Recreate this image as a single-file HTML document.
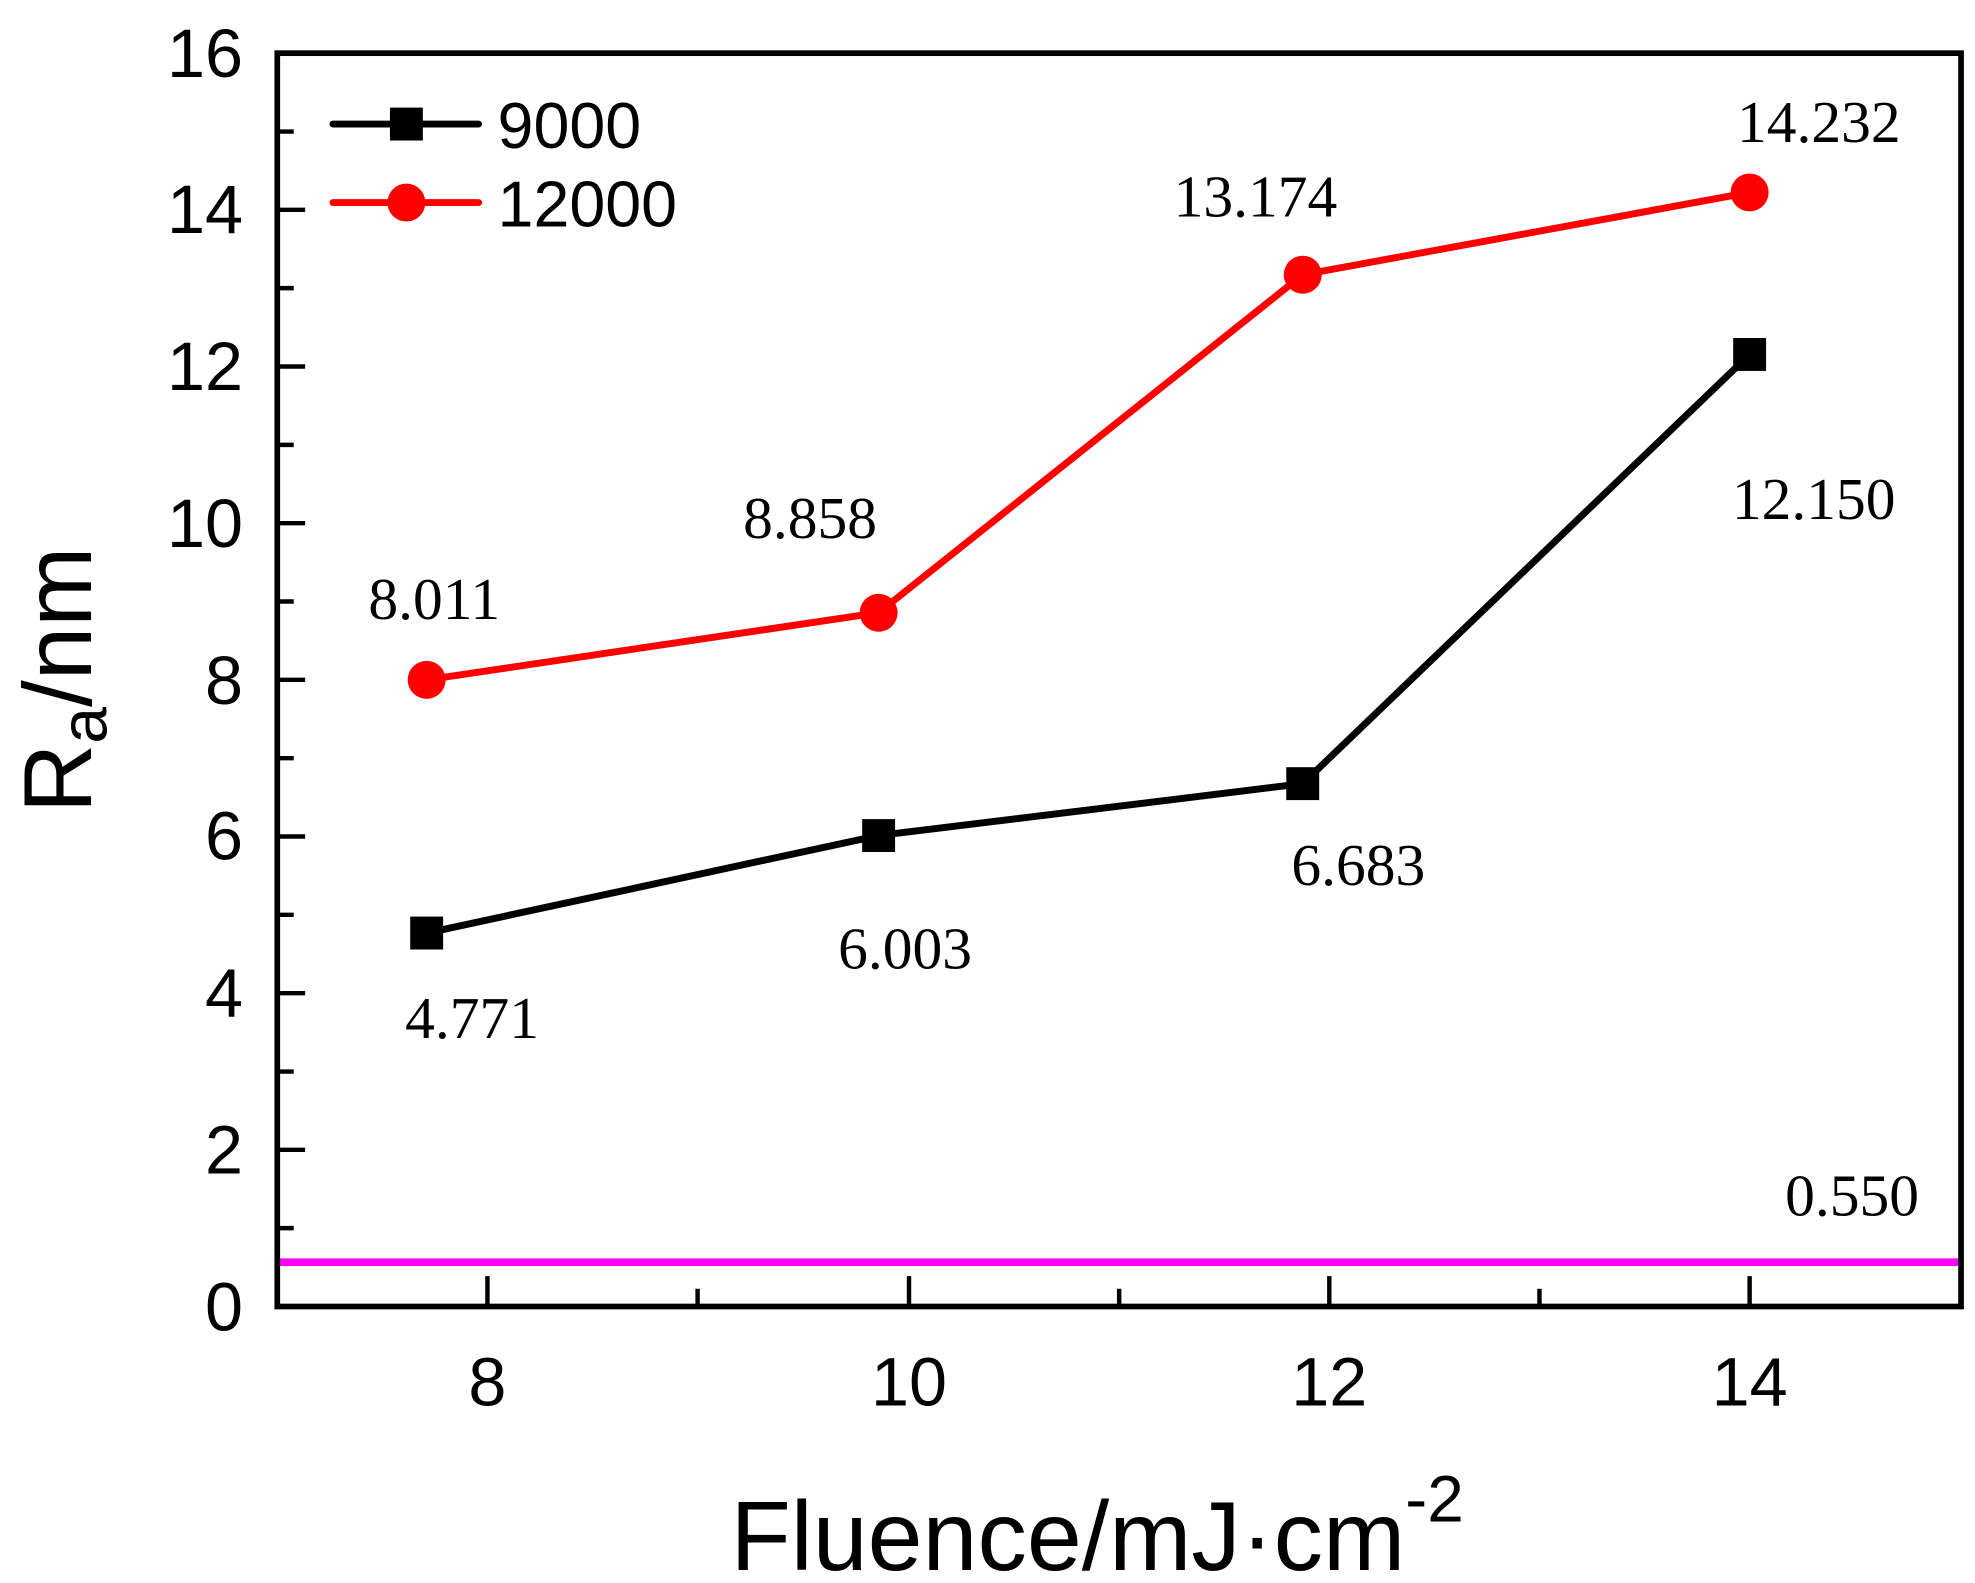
<!DOCTYPE html>
<html><head><style>html,body{margin:0;padding:0;background:#fff}svg{display:block}</style></head>
<body>
<svg width="1975" height="1583" viewBox="0 0 1560 1250.4" xmlns="http://www.w3.org/2000/svg" font-family="Liberation Sans, sans-serif">
<rect width="1560" height="1251" fill="#fff"/>
<line x1="219" y1="997" x2="1549" y2="997" stroke="#ff00ff" stroke-width="6"/>
<rect x="219" y="42" width="1330" height="990" fill="none" stroke="#000" stroke-width="4.5"/>
<g stroke="#000" stroke-width="3.5">
<line x1="219" y1="1032" x2="241" y2="1032"/><line x1="219" y1="908.25" x2="241" y2="908.25"/>
<line x1="219" y1="784.5" x2="241" y2="784.5"/><line x1="219" y1="660.75" x2="241" y2="660.75"/>
<line x1="219" y1="537" x2="241" y2="537"/><line x1="219" y1="413.25" x2="241" y2="413.25"/>
<line x1="219" y1="289.5" x2="241" y2="289.5"/><line x1="219" y1="165.75" x2="241" y2="165.75"/>
<line x1="219" y1="970.1" x2="232" y2="970.1"/><line x1="219" y1="846.4" x2="232" y2="846.4"/>
<line x1="219" y1="722.6" x2="232" y2="722.6"/><line x1="219" y1="598.9" x2="232" y2="598.9"/>
<line x1="219" y1="475.1" x2="232" y2="475.1"/><line x1="219" y1="351.4" x2="232" y2="351.4"/>
<line x1="219" y1="227.6" x2="232" y2="227.6"/><line x1="219" y1="103.9" x2="232" y2="103.9"/>
<line x1="385" y1="1032" x2="385" y2="1008"/><line x1="718" y1="1032" x2="718" y2="1008"/>
<line x1="1050" y1="1032" x2="1050" y2="1008"/><line x1="1382" y1="1032" x2="1382" y2="1008"/>
<line x1="551" y1="1032" x2="551" y2="1018"/><line x1="884" y1="1032" x2="884" y2="1018"/>
<line x1="1216" y1="1032" x2="1216" y2="1018"/>
</g>
<g font-size="54" text-anchor="end">
<text x="192" y="1051">0</text><text x="192" y="927">2</text><text x="192" y="803">4</text>
<text x="192" y="679">6</text><text x="192" y="556">8</text><text x="192" y="432">10</text>
<text x="192" y="308">12</text><text x="192" y="184">14</text><text x="192" y="61">16</text>
</g>
<g font-size="54" text-anchor="middle">
<text x="385" y="1110">8</text><text x="718" y="1110">10</text><text x="1050" y="1110">12</text><text x="1382" y="1110">14</text>
</g>
<text transform="translate(72,537) rotate(-90)" font-size="76" text-anchor="middle">R<tspan font-size="52" dy="12">a</tspan><tspan dy="-12">/nm</tspan></text>
<text x="577" y="1240" font-size="78">Fluence/mJ·cm<tspan font-size="52" dy="-38">-2</tspan></text>
<polyline points="337,737 694,660 1029,619 1382,280" fill="none" stroke="#000" stroke-width="5.5"/>
<g fill="#000">
<rect x="324" y="724" width="26" height="26"/><rect x="681" y="647" width="26" height="26"/>
<rect x="1016" y="606" width="26" height="26"/><rect x="1369" y="267" width="26" height="26"/>
</g>
<polyline points="337,537 694,484 1029,217 1382,152" fill="none" stroke="#ff0000" stroke-width="5.5"/>
<g fill="#ff0000">
<circle cx="337" cy="537" r="15"/><circle cx="694" cy="484" r="15"/>
<circle cx="1029" cy="217" r="15"/><circle cx="1382" cy="152" r="15"/>
</g>
<g font-family="Liberation Serif, serif" font-size="47">
<text x="291" y="489">8.011</text><text x="587" y="425">8.858</text>
<text x="927" y="171">13.174</text><text x="1372" y="112">14.232</text>
<text x="320" y="820">4.771</text><text x="662" y="765">6.003</text>
<text x="1020" y="699">6.683</text><text x="1368" y="410">12.150</text>
<text x="1410" y="960">0.550</text>
</g>
<line x1="263" y1="98" x2="378" y2="98" stroke="#000" stroke-width="5.5" stroke-linecap="round"/>
<rect x="308" y="85" width="26" height="26" fill="#000"/>
<text x="393" y="117" font-size="51">9000</text>
<line x1="263" y1="160" x2="378" y2="160" stroke="#ff0000" stroke-width="5.5" stroke-linecap="round"/>
<circle cx="321" cy="160" r="15" fill="#ff0000"/>
<text x="393" y="179" font-size="51">12000</text>
</svg>
</body></html>
